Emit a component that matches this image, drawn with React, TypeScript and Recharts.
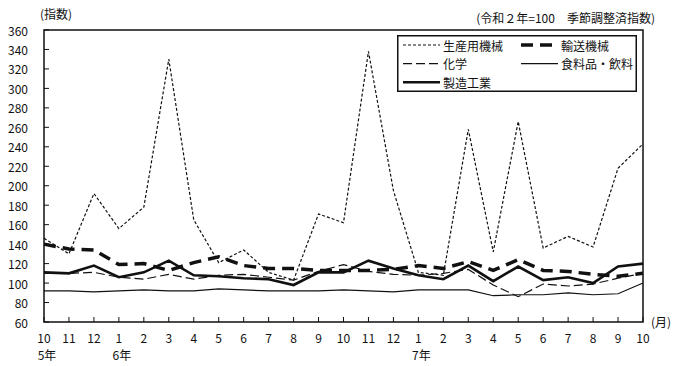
import React from 'react';
import { LineChart, Line, XAxis, YAxis, ReferenceArea, Legend } from 'recharts';

const months = ['10', '11', '12', '1', '2', '3', '4', '5', '6', '7', '8', '9', '10', '11', '12', '1', '2', '3', '4', '5', '6', '7', '8', '9', '10'];
const yearLabels: Record<number, string> = { 0: '5年', 3: '6年', 15: '7年' };
const yTicks = [60, 80, 100, 120, 140, 160, 180, 200, 220, 240, 260, 280, 300, 320, 340, 360];

const seisanyou = [146, 130, 192, 156, 178, 330, 165, 121, 134, 111, 103, 171, 162, 338, 195, 111, 108, 258, 132, 266, 136, 148, 137, 218, 243];
const yusou = [140, 135, 134, 119, 120, 113, 121, 127, 118, 115, 115, 113, 113, 113, 114, 118, 115, 122, 113, 124, 113, 112, 109, 107, 110];
const kagaku = [110, 110, 111, 106, 104, 109, 104, 108, 109, 106, 103, 112, 119, 112, 109, 108, 110, 114, 98, 86, 99, 97, 99, 105, 110];
const shokuryo = [92, 92, 91, 92, 93, 92, 92, 94, 93, 92, 92, 92, 93, 92, 91, 93, 93, 93, 87, 88, 88, 90, 88, 89, 100];
const seizo = [111, 110, 118, 106, 111, 123, 108, 107, 105, 104, 98, 111, 111, 123, 115, 108, 104, 118, 102, 117, 103, 106, 100, 117, 120];

const series = [
  { key: 'seisan', name: '生産用機械', values: seisanyou, width: 1.2, dash: '3 2' },
  { key: 'yusou', name: '輸送機械', values: yusou, width: 3.5, dash: '12 7' },
  { key: 'kagaku', name: '化学', values: kagaku, width: 1.2, dash: '9 4' },
  { key: 'shokuryo', name: '食料品・飲料', values: shokuryo, width: 1.2, dash: undefined as string | undefined },
  { key: 'seizo', name: '製造工業', values: seizo, width: 2.6, dash: undefined as string | undefined },
];

const data = months.map((m, i) => {
  const row: Record<string, number | string> = { idx: i };
  series.forEach((s) => { row[s.key] = s.values[i]; });
  return row;
});

const FONT = '"Noto Sans CJK JP", "Noto Sans", sans-serif';
const INK = '#111';

const XTick = (props: any) => {
  const { x, y, payload } = props;
  const i = payload.value as number;
  return (
    <g>
      <line x1={x} x2={x} y1={y} y2={y - 5} stroke={INK} strokeWidth={1} />
      <text x={x} y={y + 15} textAnchor="middle" dominantBaseline="central" fontSize={12} fontFamily={FONT} fill={INK}>{months[i]}</text>
      {yearLabels[i] ? (
        <text x={x + 3} y={y + 32} textAnchor="middle" dominantBaseline="central" fontSize={12} fontFamily={FONT} fill={INK}>{yearLabels[i]}</text>
      ) : null}
    </g>
  );
};

const YTick = (props: any) => {
  const { x, y, payload } = props;
  return (
    <g>
      <line x1={x} x2={x + 5} y1={y} y2={y} stroke={INK} strokeWidth={1} />
      <text x={x - 16} y={y} textAnchor="end" dominantBaseline="central" fontSize={12} fontFamily={FONT} fill={INK}>{payload.value}</text>
    </g>
  );
};

const legendRows = [
  [series[0], series[1]],
  [series[2], series[3]],
  [series[4]],
];

const LegendBox = () => (
  <svg width={240} height={57} style={{ display: 'block' }}>
    <rect x={0.75} y={0.75} width={238.5} height={55.5} fill="#fff" stroke={INK} strokeWidth={1.5} />
    {legendRows.map((row, r) =>
      row.map((s, c) => {
        const lx = c === 0 ? 6 : 124;
        const cy = 10 + r * 18.6;
        return (
          <g key={s.key}>
            <line x1={lx} x2={lx + 37} y1={cy} y2={cy} stroke={INK} strokeWidth={s.width} strokeDasharray={s.dash} />
            <text x={lx + 40} y={cy} dominantBaseline="central" fontSize={12} fontFamily={FONT} fill={INK}>{s.name}</text>
          </g>
        );
      })
    )}
  </svg>
);

export default function App() {
  return (
    <div style={{ position: 'absolute', left: 0, top: 0, width: 678, height: 366, background: '#fff', fontFamily: FONT }}>
      <LineChart width={678} height={366} data={data} margin={{ top: 30, right: 35, left: 0, bottom: 0 }}>
        <XAxis dataKey="idx" type="category" height={44} tick={<XTick />} tickLine={false} tickSize={0} tickMargin={0} interval={0} axisLine={false} />
        <YAxis type="number" domain={[60, 360]} ticks={yTicks} width={44} tick={<YTick />} tickLine={false} tickSize={0} tickMargin={0} interval={0} axisLine={false} allowDataOverflow />
        <ReferenceArea x1={0} x2={24} y1={60} y2={360} fill="none" stroke={INK} strokeWidth={1.5} ifOverflow="visible" />
        {series.map((s) => (
          <Line key={s.key} dataKey={s.key} name={s.name} type="linear" stroke={INK} strokeWidth={s.width} strokeDasharray={s.dash} dot={false} activeDot={false} isAnimationActive={false} />
        ))}
        <Legend layout="vertical" align="center" verticalAlign="middle" content={() => <LegendBox />} wrapperStyle={{ position: 'absolute', left: 397, top: 35, width: 240, height: 57 }} />
      </LineChart>
      <div style={{ position: 'absolute', left: 40, top: 6, fontSize: 12, color: INK, lineHeight: '16px' }}>(指数)</div>
      <div style={{ position: 'absolute', right: 23, top: 10, fontSize: 12, color: INK, lineHeight: '16px', whiteSpace: 'pre' }}>(令和２年=100　季節調整済指数)</div>
      <div style={{ position: 'absolute', left: 651, top: 314, fontSize: 12, color: INK, lineHeight: '16px' }}>(月)</div>
    </div>
  );
}
